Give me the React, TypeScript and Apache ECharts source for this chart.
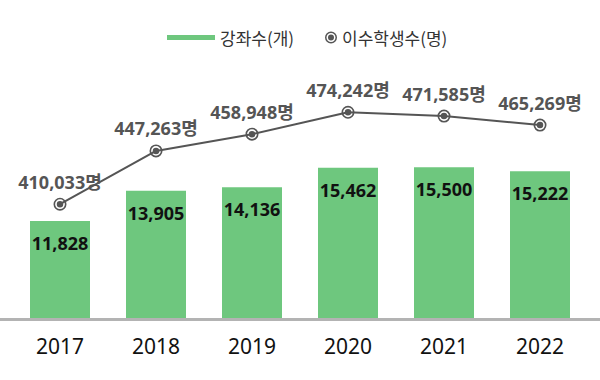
import React, { useEffect, useRef } from "react";
import * as echarts from "echarts";

const years = ["2017", "2018", "2019", "2020", "2021", "2022"];
const courses = [11828, 13905, 14136, 15462, 15500, 15222];
const students = [410033, 447263, 458948, 474242, 471585, 465269];
const courseName = "강좌수(개)";
const studentName = "이수학생수(명)";

const FONT = "'Noto Sans CJK KR', 'Noto Sans', sans-serif";
const NUMFONT = "'Noto Sans', 'Noto Sans CJK KR', sans-serif";
const GREEN = "#6ec77e";
const GRAY = "#555555";

const ringSymbol =
  "path://M6 0 A6 6 0 1 1 6 12 A6 6 0 1 1 6 0 Z M6 1.5 A4.5 4.5 0 1 0 6 10.5 A4.5 4.5 0 1 0 6 1.5 Z M6 3 A3 3 0 1 1 6 9 A3 3 0 1 1 6 3 Z";

const fmt = (v: number) => v.toLocaleString("en-US");

export default function App() {
  const ref = useRef<HTMLDivElement>(null);
  useEffect(() => {
    if (!ref.current) return;
    const chart = echarts.init(ref.current, undefined, { renderer: "svg" });
    chart.setOption({
      animation: false,
      textStyle: { fontFamily: FONT },
      legend: [
        {
          data: [{ name: courseName, icon: "rect" }],
          left: 162,
          top: 24,
          itemWidth: 48,
          itemHeight: 5,
          itemGap: 0,
          textStyle: { fontSize: 17, color: "#333", fontFamily: FONT },
        },
        {
          data: [{ name: studentName, icon: ringSymbol }],
          left: 320,
          top: 24,
          itemWidth: 12,
          itemHeight: 12,
          itemGap: 0,
          textStyle: { fontSize: 17, color: "#333", fontFamily: FONT },
        },
      ],
      grid: { left: 12, right: 12, top: 40, bottom: 62 },
      xAxis: {
        type: "category",
        data: years,
        axisLine: { show: false },
        axisTick: { show: false },
        axisLabel: { color: "#111", fontSize: 21, margin: 17, fontFamily: NUMFONT },
      },
      yAxis: [
        { type: "value", min: 5200, max: 24200, show: false, splitLine: { show: false } },
        { type: "value", min: 330600, max: 524700, show: false, splitLine: { show: false } },
      ],
      graphic: [
        {
          type: "rect",
          z: 1,
          shape: { x: 0, y: 318, width: 600, height: 3 },
          style: { fill: "#b3b3b3" },
        },
      ],
      series: [
        {
          name: courseName,
          type: "bar",
          yAxisIndex: 0,
          data: courses,
          barWidth: 60,
          z: 2,
          itemStyle: { color: GREEN },
          label: {
            show: true,
            position: "insideTop",
            distance: 13,
            color: "#111",
            fontSize: 18,
            fontWeight: "bold",
            fontFamily: NUMFONT,
            formatter: (p: any) => fmt(p.value),
          },
        },
        {
          name: studentName,
          type: "line",
          yAxisIndex: 1,
          data: students,
          symbol: ringSymbol,
          symbolSize: 13,
          lineStyle: { color: GRAY, width: 2 },
          itemStyle: { color: GRAY },
          z: 3,
          label: {
            show: true,
            position: "top",
            distance: 7,
            color: GRAY,
            fontSize: 18,
            fontWeight: "bold",
            fontFamily: NUMFONT,
            formatter: (p: any) => fmt(p.value) + "명",
          },
        },
      ],
    });
    return () => chart.dispose();
  }, []);
  return <div ref={ref} style={{ width: 600, height: 380, position: "absolute", left: 0, top: 0 }} />;
}
